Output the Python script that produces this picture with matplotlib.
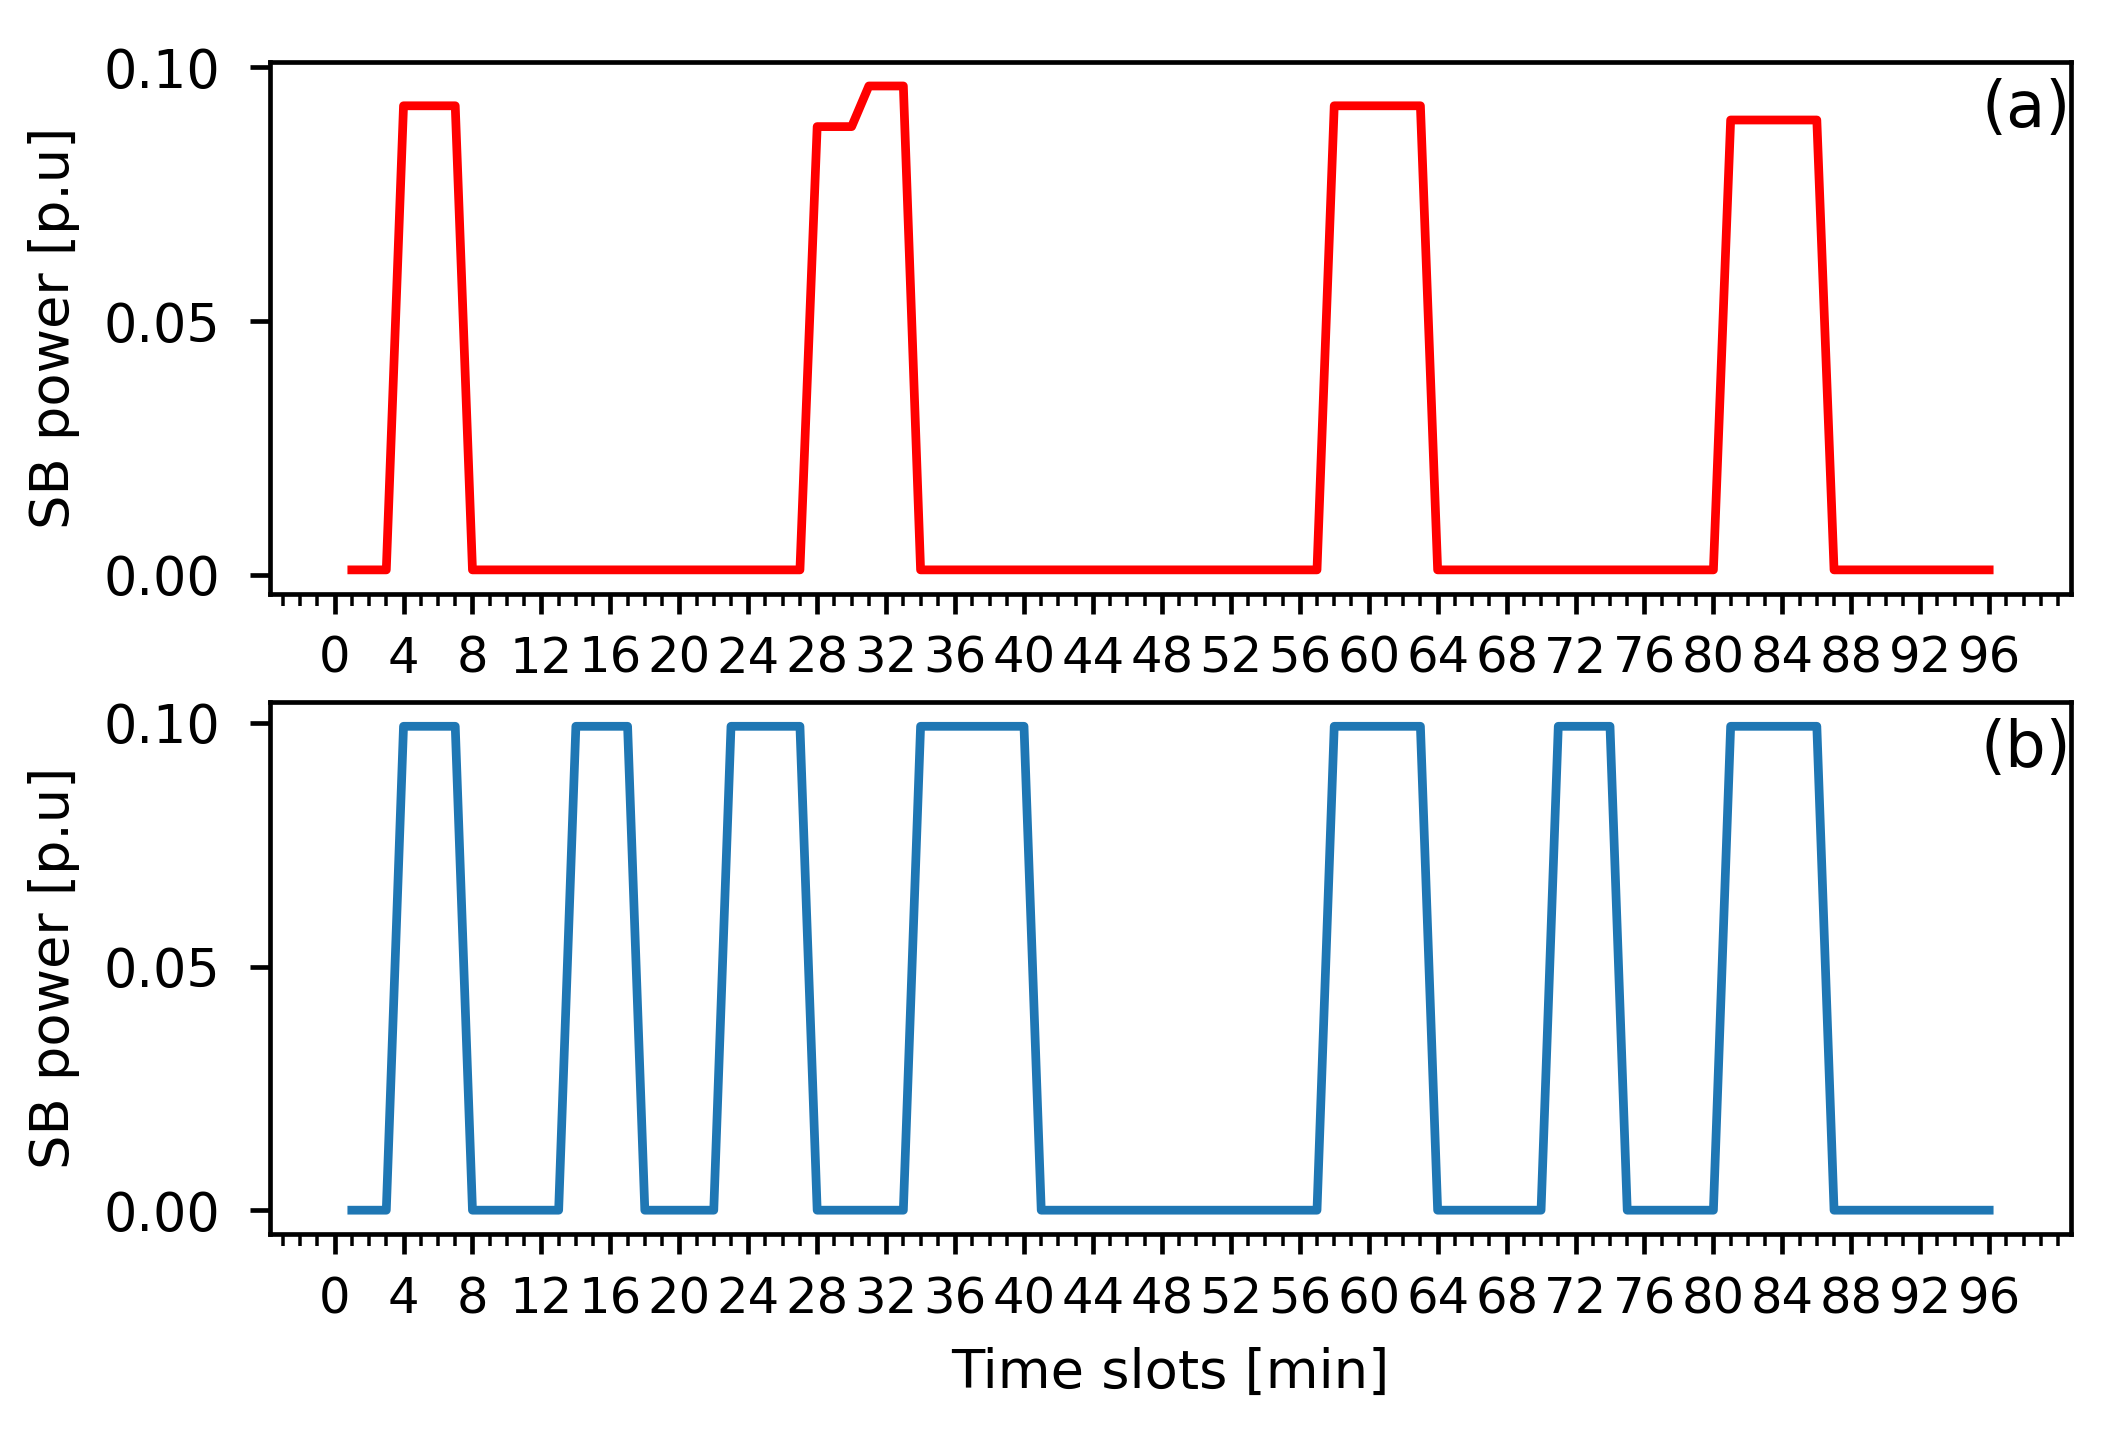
import matplotlib
matplotlib.use("Agg")

import matplotlib.pyplot as plt
import matplotlib.ticker as ticker

# ── Data: SB power per time slot (1..96) ─────────────────────────────────────
slots = list(range(1, 97))

power_a = [
    0.001, 0.001, 0.001, 0.0924, 0.0924, 0.0924, 0.0924, 0.001, 0.001, 0.001, 0.001, 0.001,
    0.001, 0.001, 0.001, 0.001, 0.001, 0.001, 0.001, 0.001, 0.001, 0.001, 0.001, 0.001,
    0.001, 0.001, 0.001, 0.0883, 0.0883, 0.0883, 0.0963, 0.0963, 0.0963, 0.001, 0.001, 0.001,
    0.001, 0.001, 0.001, 0.001, 0.001, 0.001, 0.001, 0.001, 0.001, 0.001, 0.001, 0.001,
    0.001, 0.001, 0.001, 0.001, 0.001, 0.001, 0.001, 0.001, 0.001, 0.0924, 0.0924, 0.0924,
    0.0924, 0.0924, 0.0924, 0.001, 0.001, 0.001, 0.001, 0.001, 0.001, 0.001, 0.001, 0.001,
    0.001, 0.001, 0.001, 0.001, 0.001, 0.001, 0.001, 0.001, 0.0896, 0.0896, 0.0896, 0.0896,
    0.0896, 0.0896, 0.001, 0.001, 0.001, 0.001, 0.001, 0.001, 0.001, 0.001, 0.001, 0.001,
]

power_b = [
    0.0, 0.0, 0.0, 0.0993, 0.0993, 0.0993, 0.0993, 0.0, 0.0, 0.0, 0.0, 0.0,
    0.0, 0.0993, 0.0993, 0.0993, 0.0993, 0.0, 0.0, 0.0, 0.0, 0.0, 0.0993, 0.0993,
    0.0993, 0.0993, 0.0993, 0.0, 0.0, 0.0, 0.0, 0.0, 0.0, 0.0993, 0.0993, 0.0993,
    0.0993, 0.0993, 0.0993, 0.0993, 0.0, 0.0, 0.0, 0.0, 0.0, 0.0, 0.0, 0.0,
    0.0, 0.0, 0.0, 0.0, 0.0, 0.0, 0.0, 0.0, 0.0, 0.0993, 0.0993, 0.0993,
    0.0993, 0.0993, 0.0993, 0.0, 0.0, 0.0, 0.0, 0.0, 0.0, 0.0, 0.0993, 0.0993,
    0.0993, 0.0993, 0.0, 0.0, 0.0, 0.0, 0.0, 0.0, 0.0993, 0.0993, 0.0993, 0.0993,
    0.0993, 0.0993, 0.0, 0.0, 0.0, 0.0, 0.0, 0.0, 0.0, 0.0, 0.0, 0.0,
]

x_major = list(range(0, 97, 4))
panel_labels = ["(a)", "(b)"]
colors = ["red", "#1f77b4"]

XTICK_FS = 8.5   # 2-digit labels nearly touch, as in the original
YTICK_FS = 9.0
LABEL_FS = 9.3
PANEL_FS = 11.0

# ── Figure ───────────────────────────────────────────────────────────────────
DPI = 420
fig, axes = plt.subplots(2, 1, figsize=(2109 / DPI, 1437 / DPI))
fig.subplots_adjust(left=0.128, right=0.982, top=0.957, bottom=0.141, hspace=0.203)

for ax, series, color, tag in zip(axes, [power_a, power_b], colors, panel_labels):
    ax.plot(slots, series, color=color, linewidth=1.5)
    ax.set_xticks(x_major)
    ax.xaxis.set_minor_locator(ticker.MultipleLocator(1))
    ax.yaxis.set_major_locator(ticker.MultipleLocator(0.05))
    ax.yaxis.set_major_formatter(ticker.FormatStrFormatter("%.2f"))
    ax.tick_params(axis="x", labelsize=XTICK_FS)
    ax.tick_params(axis="y", labelsize=YTICK_FS, pad=5)
    ax.set_ylabel("SB power [p.u]", fontsize=LABEL_FS)
    ax.text(1.0, 0.911, tag, transform=ax.transAxes, ha="right", va="center",
            fontsize=PANEL_FS, zorder=1)

axes[1].set_xlabel("Time slots [min]", fontsize=LABEL_FS)

plt.savefig("out.png", dpi=DPI)
plt.close(fig)
